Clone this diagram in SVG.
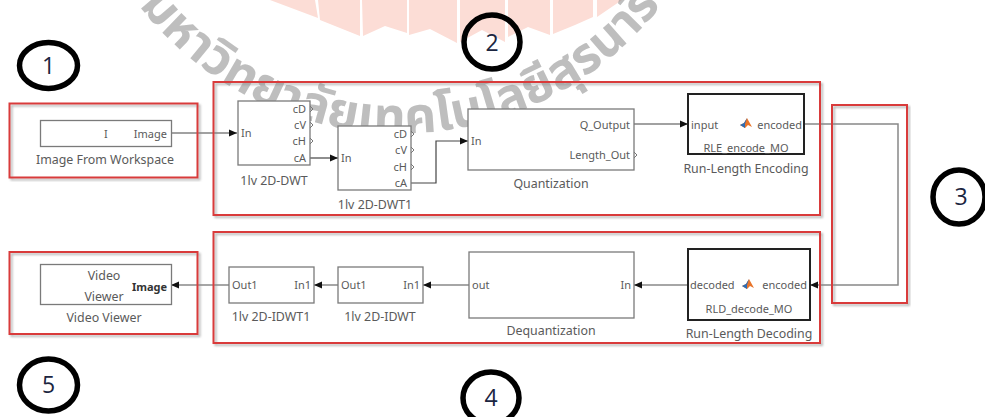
<svg xmlns="http://www.w3.org/2000/svg" width="985" height="417" viewBox="0 0 985 417">
<style>
.lbl{font-family:"Noto Sans","DejaVu Sans",sans-serif;font-size:12.4px;fill:#5a5a5a}
.port{font-family:"Noto Sans","DejaVu Sans",sans-serif;font-size:11px;fill:#5a5a5a}
.blk{fill:#fff;stroke:#7a7a7a;stroke-width:1.3}
.mblk{fill:#fff;stroke:#222;stroke-width:2}
.grp{fill:none;stroke:#d93a3a;stroke-width:2;filter:url(#sh)}
.wire{fill:none;stroke:#444;stroke-width:1.2}
.wire2{fill:none;stroke:#888;stroke-width:1.5}
.chev{fill:none;stroke:#777;stroke-width:1}
.num{fill:none;stroke:#000;stroke-width:5.5}
.numt{font-family:"Open Sans","Noto Sans",sans-serif;font-size:23px;fill:#1b2540;text-anchor:middle}
.wm{font-family:"Noto Sans Thai","Noto Sans","DejaVu Sans",sans-serif;font-size:50px;font-weight:bold;fill:#8a8a8a;opacity:0.55}
.logo{fill:#fcddd6}
</style>
<defs>
<filter id="sh" x="-5%" y="-5%" width="110%" height="110%">
<feDropShadow dx="2" dy="2" stdDeviation="1" flood-color="#888" flood-opacity="0.6"/>
</filter>
<marker id="arr" markerUnits="userSpaceOnUse" markerWidth="8" markerHeight="8" refX="8" refY="4" orient="auto">
<path d="M0,0.5 L8,4 L0,7.5 z" fill="#111"/>
</marker>
<symbol id="ml" viewBox="0 0 12 10">
<polygon points="0,7 4,5 7,0 12,9 8,7 5,10" fill="#e8742a"/>
<polygon points="0,7 4,5 7,0 5,6 5,10" fill="#2c6db5"/>
</symbol>
<path id="arc" d="M 80 -116 A 330 330 0 0 0 720 -116"/>
</defs>
<rect width="985" height="417" fill="#fff"/>

<g id="watermark-logo">
<polygon class="logo" points="270,0 315,0 318,18"/>
<polygon class="logo" points="318,0 360,0 360,36 340,28 320,20"/>
<polygon class="logo" points="362,0 407,0 407,33 385,26 363,36"/>
<polygon class="logo" points="409,0 457,0 457,43 430,29 409,35"/>
<polygon class="logo" points="460,0 505,0 505,42 482,30 460,42"/>
<polygon class="logo" points="508,0 550,0 550,35 528,27 508,37"/>
<polygon class="logo" points="553,0 593,0 593,17 575,25 553,34"/>
<polygon class="logo" points="597,0 622,0 597,17"/>
</g>
<text class="wm"><textPath href="#arc" startOffset="50%" text-anchor="middle">มหาวิทยาลัยเทคโนโลยีสุรนารี</textPath></text>

<g id="connectors">
<path class="wire" d="M171,133 H237" marker-end="url(#arr)"/>
<path class="wire" d="M310,158 H338" marker-end="url(#arr)"/>
<path class="wire" d="M411,183 H436 V141 H468" marker-end="url(#arr)"/>
<path class="wire" d="M634,124 H688" marker-end="url(#arr)"/>
<path class="wire2" d="M804,124 H898 V285 H810" marker-end="url(#arr)"/>
<path class="wire2" d="M688,285 H634" marker-end="url(#arr)"/>
<path class="wire2" d="M469,285 H423" marker-end="url(#arr)"/>
<path class="wire2" d="M338,285 H314" marker-end="url(#arr)"/>
<path class="wire2" d="M229,285 H171" marker-end="url(#arr)"/>
</g>

<g id="group1">
<rect class="grp" x="9.5" y="103.5" width="188" height="74"/>
</g>
<g id="image-from-workspace">
<rect class="blk" x="40.5" y="120.5" width="131" height="26"/>
<text class="port" x="104" y="138">I</text>
<text class="port" x="167" y="138" text-anchor="end">Image</text>
<text class="lbl" x="105" y="164" text-anchor="middle">Image From Workspace</text>
</g>

<g id="group2">
<rect class="grp" x="213.5" y="82" width="606.5" height="133"/>
</g>
<g id="dwt">
<rect class="blk" x="238" y="101" width="72" height="64"/>
<text class="port" x="241" y="137">In</text>
<text class="port" x="306" y="113" text-anchor="end">cD</text>
<text class="port" x="306" y="129" text-anchor="end">cV</text>
<text class="port" x="306" y="145" text-anchor="end">cH</text>
<text class="port" x="306" y="162" text-anchor="end">cA</text>
<path class="chev" d="M310,106 l3,3 l-3,3 M310,122 l3,3 l-3,3 M310,138 l3,3 l-3,3"/>
<text class="lbl" x="274" y="185" text-anchor="middle">1lv 2D-DWT</text>
</g>
<g id="dwt1">
<rect class="blk" x="338" y="126" width="73" height="64"/>
<text class="port" x="341" y="162">In</text>
<text class="port" x="407" y="138" text-anchor="end">cD</text>
<text class="port" x="407" y="154" text-anchor="end">cV</text>
<text class="port" x="407" y="171" text-anchor="end">cH</text>
<text class="port" x="407" y="187" text-anchor="end">cA</text>
<path class="chev" d="M411,131 l3,3 l-3,3 M411,147 l3,3 l-3,3 M411,164 l3,3 l-3,3"/>
<text class="lbl" x="375" y="209" text-anchor="middle">1lv 2D-DWT1</text>
</g>
<g id="quantization">
<rect class="blk" x="468" y="109" width="166" height="61"/>
<text class="port" x="471" y="145">In</text>
<text class="port" x="630" y="129" text-anchor="end">Q_Output</text>
<text class="port" x="630" y="159" text-anchor="end">Length_Out</text>
<path class="chev" d="M634,152 l3,3 l-3,3"/>
<text class="lbl" x="551" y="188" text-anchor="middle">Quantization</text>
</g>
<g id="rle">
<rect class="mblk" x="688" y="94" width="116" height="60"/>
<text class="port" x="691" y="129">input</text>
<use href="#ml" x="740" y="118" width="12" height="10"/>
<text class="port" x="802" y="129" text-anchor="end">encoded</text>
<text class="port" x="746" y="152" text-anchor="middle">RLE_encode_MO</text>
<text class="lbl" x="746" y="173" text-anchor="middle">Run-Length Encoding</text>
</g>

<g id="group3">
<rect class="grp" x="832" y="105" width="75" height="198"/>
</g>

<g id="group4">
<rect class="grp" x="213.5" y="232" width="606.5" height="111"/>
</g>
<g id="rld">
<rect class="mblk" x="688" y="249" width="122" height="71"/>
<text class="port" x="690" y="289">decoded</text>
<use href="#ml" x="742" y="279" width="12" height="10"/>
<text class="port" x="807" y="289" text-anchor="end">encoded</text>
<text class="port" x="749" y="313" text-anchor="middle">RLD_decode_MO</text>
<text class="lbl" x="749" y="338" text-anchor="middle">Run-Length Decoding</text>
</g>
<g id="dequantization">
<rect class="blk" x="469" y="252" width="165" height="66"/>
<text class="port" x="472" y="289">out</text>
<text class="port" x="631" y="289" text-anchor="end">In</text>
<text class="lbl" x="551" y="335" text-anchor="middle">Dequantization</text>
</g>
<g id="idwt">
<rect class="blk" x="338" y="267" width="85" height="36"/>
<text class="port" x="341" y="289">Out1</text>
<text class="port" x="420" y="289" text-anchor="end">In1</text>
<text class="lbl" x="380" y="321" text-anchor="middle">1lv 2D-IDWT</text>
</g>
<g id="idwt1">
<rect class="blk" x="229" y="267" width="85" height="36"/>
<text class="port" x="232" y="289">Out1</text>
<text class="port" x="311" y="289" text-anchor="end">In1</text>
<text class="lbl" x="271" y="321" text-anchor="middle">1lv 2D-IDWT1</text>
</g>

<g id="group5">
<rect class="grp" x="9.5" y="252" width="188" height="82"/>
</g>
<g id="video-viewer">
<rect class="blk" x="40.5" y="264.5" width="131" height="40"/>
<text class="lbl" x="104" y="280" text-anchor="middle">Video</text>
<text class="lbl" x="104" y="301" text-anchor="middle">Viewer</text>
<text class="port" x="167" y="291" text-anchor="end" style="fill:#333;font-weight:bold">Image</text>
<text class="lbl" x="104" y="322" text-anchor="middle">Video Viewer</text>
</g>

<g id="marker1"><ellipse class="num" cx="48.5" cy="65.5" rx="29" ry="23"/><text class="numt" x="48.5" y="74">1</text></g>
<g id="marker2"><ellipse class="num" cx="492" cy="42" rx="28" ry="27"/><text class="numt" x="492" y="51">2</text></g>
<g id="marker3"><ellipse class="num" cx="959" cy="197" rx="26" ry="27"/><text class="numt" x="961" y="205">3</text></g>
<g id="marker4"><ellipse class="num" cx="491" cy="398" rx="28" ry="26"/><text class="numt" x="491" y="406">4</text></g>
<g id="marker5"><ellipse class="num" cx="48.5" cy="385" rx="29" ry="26"/><text class="numt" x="48.5" y="393">5</text></g>
</svg>
